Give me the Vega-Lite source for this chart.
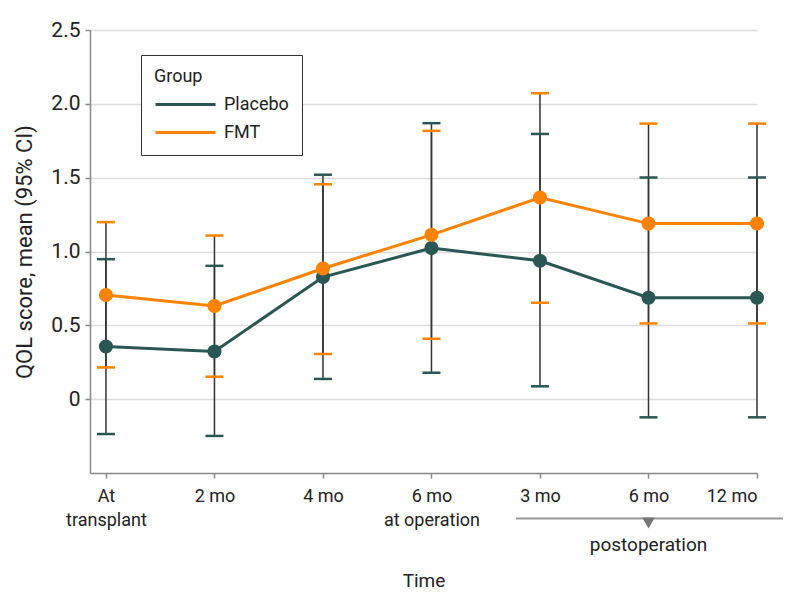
{
  "$schema": "https://vega.github.io/schema/vega-lite/v6.json",
  "width": 667,
  "height": 443,
  "autosize": {"type": "none"},
  "padding": {"left": 90, "top": 30, "right": 37, "bottom": 136},
  "background": "white",
  "config": {
    "font": "Roboto",
    "view": {"stroke": null}
  },
  "datasets": {
    "qol": [
      {"t": 0, "group": "Placebo", "mean": 0.357, "lo": -0.236, "hi": 0.948},
      {"t": 1, "group": "Placebo", "mean": 0.323, "lo": -0.249, "hi": 0.903},
      {"t": 2, "group": "Placebo", "mean": 0.827, "lo": 0.137, "hi": 1.52},
      {"t": 3, "group": "Placebo", "mean": 1.023, "lo": 0.179, "hi": 1.869},
      {"t": 4, "group": "Placebo", "mean": 0.937, "lo": 0.087, "hi": 1.796},
      {"t": 5, "group": "Placebo", "mean": 0.687, "lo": -0.123, "hi": 1.501},
      {"t": 6, "group": "Placebo", "mean": 0.687, "lo": -0.123, "hi": 1.501},
      {"t": 0, "group": "FMT", "mean": 0.705, "lo": 0.215, "hi": 1.199},
      {"t": 1, "group": "FMT", "mean": 0.631, "lo": 0.152, "hi": 1.108},
      {"t": 2, "group": "FMT", "mean": 0.885, "lo": 0.306, "hi": 1.455},
      {"t": 3, "group": "FMT", "mean": 1.113, "lo": 0.409, "hi": 1.817},
      {"t": 4, "group": "FMT", "mean": 1.365, "lo": 0.653, "hi": 2.072},
      {"t": 5, "group": "FMT", "mean": 1.189, "lo": 0.513, "hi": 1.866},
      {"t": 6, "group": "FMT", "mean": 1.189, "lo": 0.513, "hi": 1.866}
    ],
    "bracket": [
      {"x1": 3.78, "x2": 6.24, "y": -0.8085, "tx": 5, "ty": -0.838, "ly": -0.99, "label": "postoperation"}
    ]
  },
  "layer": [
    {
      "data": {"name": "qol"},
      "mark": {"type": "rule", "color": "#333", "strokeWidth": 1.5},
      "encoding": {
        "x": {"field": "t", "type": "quantitative", "scale": {"domain": [-0.147, 6], "nice": false, "zero": false},
          "axis": {"values": [0, 1, 2, 3, 4, 5, 6], "grid": false, "title": "Time", "titlePadding": 42,
            "labelFont": "Roboto", "titleFont": "Roboto", "labelFontSize": 18, "titleFontSize": 19, "titleFontWeight": "normal", "labelColor": "#222", "titleColor": "#222",
            "domainColor": "#888", "domainWidth": 1.5, "tickColor": "#888", "tickWidth": 1.5, "tickSize": 5, "labelPadding": 9, "labelLineHeight": 24,
            "labelExpr": "datum.value == 0 ? ['At', 'transplant'] : datum.value == 1 ? '2 mo' : datum.value == 2 ? '4 mo' : datum.value == 3 ? ['6 mo', 'at operation'] : datum.value == 4 ? '3 mo' : datum.value == 5 ? '6 mo' : '12 mo'"}},
        "y": {"field": "lo", "type": "quantitative", "scale": {"domain": [-0.5, 2.5], "nice": false, "zero": false},
          "axis": {"values": [0, 0.5, 1, 1.5, 2, 2.5], "grid": true, "gridColor": "#dcdcdc", "gridWidth": 1.5, "title": "QOL score, mean (95% CI)", "titlePadding": 14,
            "labelFont": "Roboto", "titleFont": "Roboto", "labelFontSize": 21, "titleFontSize": 22, "titleFontWeight": "normal", "labelColor": "#222", "titleColor": "#222",
            "domainColor": "#888", "domainWidth": 1.5, "tickColor": "#888", "tickWidth": 1.5, "tickSize": 5, "labelPadding": 5,
            "labelExpr": "datum.value == 0 ? '0' : format(datum.value, '.1f')"}},
        "y2": {"field": "hi"}
      }
    },
    {
      "data": {"name": "qol"},
      "mark": {"type": "line", "strokeWidth": 3},
      "encoding": {
        "x": {"field": "t", "type": "quantitative"},
        "y": {"field": "mean", "type": "quantitative"},
        "color": {"field": "group", "type": "nominal", "scale": {"domain": ["Placebo", "FMT"], "range": ["#2a5753", "#ff8200"]},
          "legend": {"title": "Group", "orient": "none", "legendX": 51, "legendY": 25, "strokeColor": "#333", "fillColor": "white", "padding": 13,
            "symbolType": "M-1,0H5", "symbolSize": 400, "symbolStrokeWidth": 3, "labelFontSize": 18, "titleFontSize": 18, "titleFontWeight": "normal",
            "labelFont": "Roboto", "titleFont": "Roboto", "labelColor": "#222", "titleColor": "#222", "labelOffset": 47, "titlePadding": 7, "rowPadding": 7}}
      }
    },
    {
      "data": {"name": "qol"},
      "mark": {"type": "tick", "orient": "horizontal", "size": 18, "thickness": 2.5, "opacity": 1},
      "encoding": {
        "x": {"field": "t", "type": "quantitative"},
        "y": {"field": "lo", "type": "quantitative"},
        "color": {"field": "group", "type": "nominal"}
      }
    },
    {
      "data": {"name": "qol"},
      "mark": {"type": "tick", "orient": "horizontal", "size": 18, "thickness": 2.5, "opacity": 1},
      "encoding": {
        "x": {"field": "t", "type": "quantitative"},
        "y": {"field": "hi", "type": "quantitative"},
        "color": {"field": "group", "type": "nominal"}
      }
    },
    {
      "data": {"name": "qol"},
      "mark": {"type": "point", "filled": true, "size": 200, "opacity": 1, "shape": "circle"},
      "encoding": {
        "x": {"field": "t", "type": "quantitative"},
        "y": {"field": "mean", "type": "quantitative"},
        "color": {"field": "group", "type": "nominal"}
      }
    },
    {
      "data": {"name": "bracket"},
      "mark": {"type": "rule", "color": "#999", "strokeWidth": 2},
      "encoding": {
        "x": {"field": "x1", "type": "quantitative"},
        "x2": {"field": "x2"},
        "y": {"field": "y", "type": "quantitative"}
      }
    },
    {
      "data": {"name": "bracket"},
      "mark": {"type": "point", "shape": "triangle-down", "filled": true, "color": "#777", "size": 160, "opacity": 1},
      "encoding": {
        "x": {"field": "tx", "type": "quantitative"},
        "y": {"field": "ty", "type": "quantitative"}
      }
    },
    {
      "data": {"name": "bracket"},
      "mark": {"type": "text", "fontSize": 19, "font": "Roboto", "color": "#222", "baseline": "middle", "align": "center"},
      "encoding": {
        "x": {"field": "tx", "type": "quantitative"},
        "y": {"field": "ly", "type": "quantitative"},
        "text": {"field": "label"}
      }
    }
  ]
}
